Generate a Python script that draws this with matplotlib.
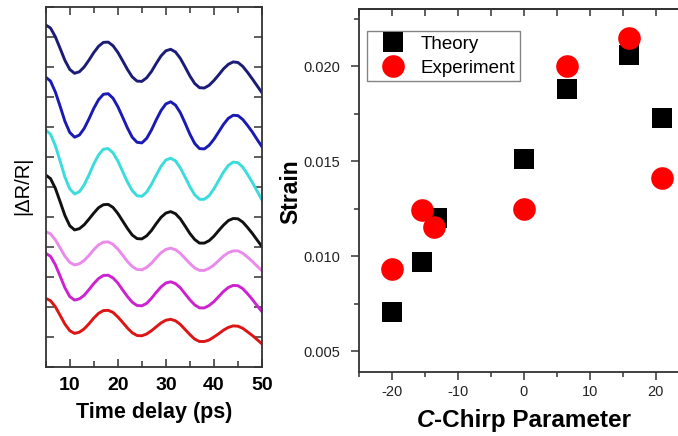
import matplotlib
matplotlib.use("Agg")
import matplotlib.pyplot as plt
from matplotlib.ticker import MultipleLocator, FormatStrFormatter, NullFormatter

plt.rcParams["font.family"] = ["Liberation Sans", "DejaVu Sans"]
plt.rcParams["axes.unicode_minus"] = False

# ---- reflectivity traces (vertically offset), one value per ps ----
delay_ps = list(range(5, 51))

trace_navy = [11.40, 11.30, 11.01, 10.62, 10.22, 9.92, 9.79, 9.84, 10.00, 10.23, 10.48, 10.69, 10.82,
              10.83, 10.71, 10.49, 10.21, 9.92, 9.67, 9.53, 9.52, 9.64, 9.85, 10.12, 10.37, 10.54,
              10.59, 10.50, 10.29, 10.00, 9.70, 9.45, 9.31, 9.30, 9.39, 9.55, 9.74, 9.94, 10.09, 10.17,
              10.15, 10.02, 9.82, 9.60, 9.37, 9.14]
trace_blue = [9.66, 9.53, 9.17, 8.69, 8.19, 7.82, 7.66, 7.73, 7.95, 8.27, 8.62, 8.91, 9.09,
              9.11, 8.96, 8.68, 8.33, 7.97, 7.66, 7.49, 7.47, 7.62, 7.90, 8.24, 8.55, 8.77,
              8.84, 8.73, 8.48, 8.13, 7.76, 7.45, 7.28, 7.27, 7.39, 7.59, 7.84, 8.09, 8.29, 8.39,
              8.38, 8.25, 8.05, 7.83, 7.58, 7.34]
trace_cyan = [7.90, 7.76, 7.38, 6.86, 6.33, 5.94, 5.77, 5.84, 6.07, 6.40, 6.77, 7.07, 7.26,
              7.28, 7.14, 6.87, 6.52, 6.17, 5.88, 5.71, 5.69, 5.83, 6.09, 6.40, 6.69, 6.90,
              6.96, 6.87, 6.64, 6.33, 6.01, 5.74, 5.59, 5.59, 5.71, 5.94, 6.22, 6.50, 6.72, 6.83,
              6.81, 6.66, 6.42, 6.15, 5.86, 5.57]
trace_black = [6.40, 6.28, 5.96, 5.51, 5.05, 4.71, 4.57, 4.61, 4.74, 4.93, 5.13, 5.31, 5.41,
               5.42, 5.32, 5.12, 4.87, 4.62, 4.40, 4.28, 4.27, 4.37, 4.55, 4.78, 4.99, 5.13,
               5.18, 5.11, 4.94, 4.70, 4.45, 4.25, 4.13, 4.13, 4.21, 4.36, 4.55, 4.73, 4.88, 4.95,
               4.94, 4.83, 4.65, 4.45, 4.23, 4.01]
trace_violet = [4.51, 4.44, 4.24, 3.97, 3.69, 3.49, 3.40, 3.44, 3.55, 3.72, 3.91, 4.07, 4.16,
                4.17, 4.09, 3.93, 3.73, 3.52, 3.35, 3.25, 3.24, 3.32, 3.46, 3.64, 3.81, 3.92,
                3.96, 3.91, 3.79, 3.62, 3.45, 3.30, 3.22, 3.22, 3.29, 3.40, 3.55, 3.70, 3.81, 3.87,
                3.87, 3.79, 3.66, 3.52, 3.36, 3.21]
trace_magenta = [3.79, 3.69, 3.41, 3.03, 2.64, 2.35, 2.23, 2.27, 2.39, 2.58, 2.78, 2.95, 3.05,
                 3.06, 2.97, 2.80, 2.57, 2.35, 2.16, 2.05, 2.04, 2.12, 2.29, 2.49, 2.67, 2.80,
                 2.84, 2.78, 2.64, 2.44, 2.24, 2.07, 1.97, 1.97, 2.05, 2.18, 2.35, 2.52, 2.65, 2.72,
                 2.71, 2.61, 2.44, 2.25, 2.04, 1.84]
trace_red = [2.29, 2.21, 2.01, 1.72, 1.43, 1.21, 1.12, 1.16, 1.27, 1.44, 1.63, 1.79, 1.88,
             1.89, 1.82, 1.67, 1.49, 1.30, 1.14, 1.05, 1.04, 1.10, 1.21, 1.34, 1.47, 1.56,
             1.59, 1.54, 1.42, 1.25, 1.08, 0.93, 0.85, 0.85, 0.90, 1.00, 1.11, 1.23, 1.32, 1.37,
             1.36, 1.29, 1.17, 1.05, 0.91, 0.77]

traces = [trace_navy, trace_blue, trace_cyan, trace_black, trace_violet, trace_magenta, trace_red]
trace_colors = ["#1c1c78", "#1a1ab4", "#3adcdc", "#111111", "#ea8aea", "#cc22d0", "#dd1515"]

# ---- strain versus chirp parameter ----
chirp_theory = [-20, -15.5, -13.2, 0, 6.5, 16, 21]
strain_theory = [0.00707, 0.0097, 0.0120, 0.01513, 0.01882, 0.0206, 0.0173]
chirp_exp = [-20, -15.5, -13.6, 0, 6.5, 16, 21]
strain_exp = [0.0093, 0.01242, 0.01152, 0.01248, 0.0200, 0.0215, 0.0141]

W, H = 678, 436
fig = plt.figure(figsize=(W / 100, H / 100), dpi=100)


def fx(px):
    return px / W


def fy(py):
    return 1 - py / H


# ---------------- left panel ----------------
axl = fig.add_axes([fx(45.7), fy(367), fx(262 - 45.7), (367 - 7) / H])
for y, c in zip(traces, trace_colors):
    axl.plot(delay_ps, y, color=c, lw=2.1, solid_capstyle="round")
axl.set_xlim(5, 50)
axl.set_ylim(0, 12)
axl.xaxis.set_major_locator(MultipleLocator(10))
axl.xaxis.set_minor_locator(MultipleLocator(5))
axl.yaxis.set_major_locator(MultipleLocator(1))
axl.yaxis.set_major_formatter(NullFormatter())
axl.tick_params(which="both", direction="in", top=True, right=True, width=1.1, color="#333333")
axl.tick_params(which="major", length=5.5)
axl.tick_params(which="minor", length=4)
axl.tick_params(axis="x", labelsize=14, pad=7.5)
for lab in axl.get_xticklabels():
    lab.set_fontweight("bold")
for s in axl.spines.values():
    s.set_linewidth(1.3)
    s.set_color("#333333")

fig.text(fx(154), fy(418), "Time delay (ps)", ha="center", va="baseline",
         fontsize=15.5, fontweight="bold")
fig.text(fx(23), fy(186), "|ΔR/R|", ha="center", va="center", rotation=90, fontsize=14.5)

# ---------------- right panel ----------------
axr = fig.add_axes([fx(359.3), fy(372), fx(688.6 - 359.3), (372 - 9.3) / H])
axr.plot(chirp_theory, strain_theory, ls="none", marker="s", ms=14.9, mew=0,
         color="black", label="Theory")
axr.plot(chirp_exp, strain_exp, ls="none", marker="o", ms=16.3, mew=0,
         color="#ff0000", label="Experiment")
axr.set_xlim(-25, 25)
axr.set_ylim(0.0039, 0.023)
axr.xaxis.set_major_locator(MultipleLocator(10))
axr.xaxis.set_minor_locator(MultipleLocator(5))
axr.yaxis.set_major_locator(MultipleLocator(0.005))
axr.yaxis.set_minor_locator(MultipleLocator(0.0025))
axr.yaxis.set_major_formatter(FormatStrFormatter("%.3f"))
axr.tick_params(which="both", direction="out", width=1.1, color="#333333",
                labelcolor="#222222", labelsize=10.5)
axr.tick_params(which="major", length=5.5)
axr.tick_params(which="minor", length=3.5)
axr.tick_params(axis="y", pad=8.4)
axr.tick_params(axis="x", pad=3.6)
axr.spines["right"].set_visible(False)
for s in ("left", "bottom", "top"):
    axr.spines[s].set_linewidth(1.3)
    axr.spines[s].set_color("#333333")

top = axr.secondary_xaxis("top")
top.xaxis.set_major_locator(MultipleLocator(5))
top.tick_params(direction="in", length=5, width=1.1, color="#333333", labeltop=False)
top.spines["top"].set_linewidth(1.3)
top.spines["top"].set_color("#333333")

leg = axr.legend(loc="upper left", bbox_to_anchor=(fx(367.3), fy(30.7)),
                 bbox_transform=fig.transFigure, fontsize=13.5, frameon=True,
                 fancybox=False, borderpad=0.25, labelspacing=0.38, handlelength=2.2,
                 handletextpad=0.4, borderaxespad=0, numpoints=1)
leg.get_frame().set_edgecolor("#666666")
leg.get_frame().set_linewidth(1.0)

fig.text(fx(291), fy(192), "Strain", ha="center", va="center", rotation=90,
         fontsize=16.5, fontweight="bold")

# axis title with an italic "C" followed by upright bold text
renderer = fig.canvas.get_renderer()
part_c = fig.text(0, fy(426.7), "C", fontsize=17.5, fontweight="bold", style="italic",
                  va="baseline", ha="left")
part_rest = fig.text(0, fy(426.7), "-Chirp Parameter", fontsize=17.5, fontweight="bold",
                     va="baseline", ha="left")
wc = part_c.get_window_extent(renderer).width
wr = part_rest.get_window_extent(renderer).width
x0 = 524 - (wc + wr) / 2
part_c.set_x(fx(x0))
part_rest.set_x(fx(x0 + wc))

fig.savefig("out.png", dpi=100)
